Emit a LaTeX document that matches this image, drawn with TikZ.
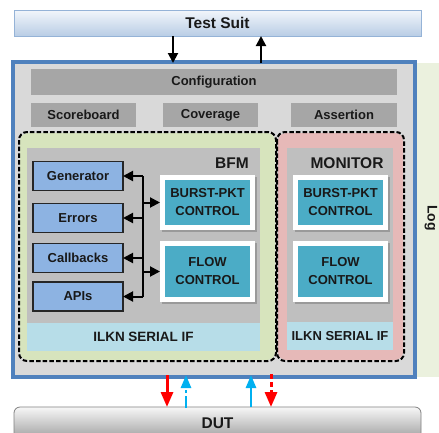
\documentclass[tikz,border=0pt]{standalone}
\usepackage{fontspec}
\setmainfont{Liberation Sans}
\usetikzlibrary{arrows.meta}
\definecolor{tsTop}{HTML}{F2F6FB}
\definecolor{tsBot}{HTML}{B9CDE5}
\definecolor{tsLine}{HTML}{95B3D7}
\definecolor{mainFill}{HTML}{D9D9D9}
\definecolor{mainLine}{HTML}{4F81BD}
\definecolor{logFill}{HTML}{EBF1DE}
\definecolor{barGray}{HTML}{A6A6A6}
\definecolor{bfmFill}{HTML}{D7E4BD}
\definecolor{monFill}{HTML}{E6B9B8}
\definecolor{innerGray}{HTML}{BFBFBF}
\definecolor{ilkn}{HTML}{B7DDE8}
\definecolor{leftBlue}{HTML}{8DB3E2}
\definecolor{tealC}{HTML}{4BACC6}
\definecolor{shadowC}{HTML}{9A9A9A}
\definecolor{redA}{HTML}{FF0000}
\definecolor{blueA}{HTML}{00B0F0}
\definecolor{dutTop}{HTML}{F7F7F7}
\definecolor{dutBot}{HTML}{A0A0A0}
\begin{document}
\begin{tikzpicture}[x=1pt,y=-1pt,
  box/.style={rectangle,inner sep=0pt,outer sep=0pt,align=center,text=black!90,font=\bfseries\fontsize{13}{18}\selectfont},
  graybar/.style={box,fill=barGray,minimum height=25pt},
  leftbox/.style={box,fill=leftBlue,draw=black!85,line width=1.1pt,minimum width=90pt,minimum height=29pt},
  frame/.style={box,fill=white,minimum width=95pt},
  tealbox/.style={box,fill=tealC,minimum width=85pt},
  shadowbox/.style={box,fill=shadowC,minimum width=95pt},
  region/.style={rectangle,rounded corners=8pt,line width=2pt,dash pattern=on 4.5pt off 2.2pt},
  plain/.style={box,minimum width=0pt},
  blackarrow/.style={line width=2pt,-{Triangle[length=10pt,width=10pt]}},
  redarrow/.style={line width=3pt,redA,-{Triangle[length=15pt,width=12pt]}},
  bluearrow/.style={line width=2.6pt,blueA,-{Triangle[length=13pt,width=10pt]}}
]
\useasboundingbox (0,0) rectangle (439,432);
\clip (0,0) rectangle (439,432);
\fill[white] (0,0) rectangle (439,432);

% Test suit
\node[box,top color=tsTop,bottom color=tsBot,draw=tsLine,line width=0.8pt,
  minimum width=407pt,minimum height=26pt,font=\bfseries\fontsize{15.5}{16}\selectfont] (ts) at (217.5,23) {Test Suit};

% Log panel
\node[box,fill=logFill,minimum width=26pt,minimum height=314pt] (logp) at (428,220) {};
\node[plain,rotate=-90,font=\bfseries\fontsize{14}{16}\selectfont] (logt) at (431,218) {Log};

% Main box
\node[box,fill=mainFill,draw=mainLine,line width=3.8pt,minimum width=402pt,minimum height=315pt] (main) at (214,219.5) {};

% Configuration row
\node[graybar,minimum width=366pt,minimum height=26pt] (cfg) at (214,82) {Configuration};
\node[graybar,minimum width=105pt,minimum height=24pt] (sb) at (83.5,115) {Scoreboard};
\node[graybar,minimum width=95pt,minimum height=24pt] (cov) at (210.5,115) {Coverage};
\node[graybar,minimum width=106pt,minimum height=24pt] (asr) at (344,115) {Assertion};

% BFM region
\node[region,fill=bfmFill,minimum width=255pt,minimum height=227pt] (bfm) at (147.5,246.5) {};
\node[box,fill=innerGray,minimum width=233pt,minimum height=175pt] (bfmin) at (143.5,235.5) {};
\node[box,fill=ilkn,minimum width=233pt,minimum height=28pt,font=\bfseries\fontsize{13.5}{16}\selectfont] (bfmif) at (143.5,337) {ILKN SERIAL IF};
\draw[region] (bfm.north west) rectangle (bfm.south east);
\node[plain,font=\bfseries\fontsize{15.5}{16}\selectfont] (bfml) at (232,163) {BFM};

% Monitor region
\node[region,fill=monFill,minimum width=125pt,minimum height=227pt] (mon) at (340.5,246.5) {};
\node[box,fill=innerGray,minimum width=106pt,minimum height=174pt] (monin) at (340,235) {};
\node[box,fill=ilkn,minimum width=106pt,minimum height=28pt] (monif) at (340,336) {ILKN SERIAL IF};
\draw[region] (mon.north west) rectangle (mon.south east);
\node[plain,font=\bfseries\fontsize{15.5}{16}\selectfont] (monl) at (347,163) {MONITOR};

% Left boxes
\node[leftbox] (gen) at (78,176) {Generator};
\node[leftbox] (err) at (78,218) {Errors};
\node[leftbox] (cb) at (78,258) {Callbacks};
\node[leftbox] (api) at (78,296.5) {APIs};

% Control boxes BFM
\node[shadowbox,minimum height=55pt] (s1) at (209.5,204.5) {};
\node[frame,minimum height=55pt] (f1) at (207.5,202.5) {};
\node[tealbox,minimum height=45pt] (bp1) at (207.5,202.5) {BURST-PKT\\CONTROL};
\node[shadowbox,minimum height=61pt] (s2) at (209.5,273.5) {};
\node[frame,minimum height=61pt] (f2) at (207.5,271.5) {};
\node[tealbox,minimum height=51pt] (fc1) at (207.5,271.5) {FLOW\\CONTROL};

% Control boxes Monitor
\node[shadowbox,minimum height=55pt] (s3) at (342.5,204.5) {};
\node[frame,minimum height=55pt] (f3) at (340.5,202.5) {};
\node[tealbox,minimum height=45pt] (bp2) at (340.5,202.5) {BURST-PKT\\CONTROL};
\node[shadowbox,minimum height=61pt] (s4) at (342.5,273.5) {};
\node[frame,minimum height=61pt] (f4) at (340.5,271.5) {};
\node[tealbox,minimum height=51pt] (fc2) at (340.5,271.5) {FLOW\\CONTROL};

% Bus
\coordinate (bus) at (143,0);
\draw[line width=2pt] (gen.east -| bus) -- (api.east -| bus);
\draw[blackarrow] (gen.east -| bus) -- (gen.east);
\draw[blackarrow] (err.east -| bus) -- (err.east);
\draw[blackarrow] (cb.east -| bus) -- (cb.east);
\draw[blackarrow] (api.east -| bus) -- (api.east);
\draw[blackarrow] (f1.west -| bus) -- (f1.west);
\draw[blackarrow] (f2.west -| bus) -- (f2.west);

% Top arrows
\coordinate (d1) at (173,0);
\coordinate (u1) at (261,0);
\draw[blackarrow] (ts.south -| d1) -- ([yshift=-1pt]main.north -| d1);
\draw[blackarrow] ([yshift=-1pt]main.north -| u1) -- (ts.south -| u1);

% DUT
\node[box,rounded corners=6pt,top color=dutTop,bottom color=dutBot,draw=gray,line width=0.8pt,
  minimum width=407pt,minimum height=32pt,font=\bfseries\fontsize{15.5}{16}\selectfont] (dut) at (217.5,423) {DUT};

% Bottom arrows
\coordinate (b1) at (167,0);
\coordinate (b2) at (186,0);
\coordinate (b3) at (251,0);
\coordinate (b4) at (271,0);
\draw[redarrow] ([yshift=2pt]main.south -| b1) -- (dut.north -| b1);
\draw[bluearrow,dash pattern=on 12pt off 3pt on 3pt off 3pt] ([yshift=-1pt]dut.north -| b2) -- ([yshift=2pt]main.south -| b2);
\draw[bluearrow] (dut.north -| b3) -- ([yshift=2pt]main.south -| b3);
\draw[redarrow,dash pattern=on 5pt off 3pt] ([yshift=3pt]main.south -| b4) -- (dut.north -| b4);
\end{tikzpicture}
\end{document}
